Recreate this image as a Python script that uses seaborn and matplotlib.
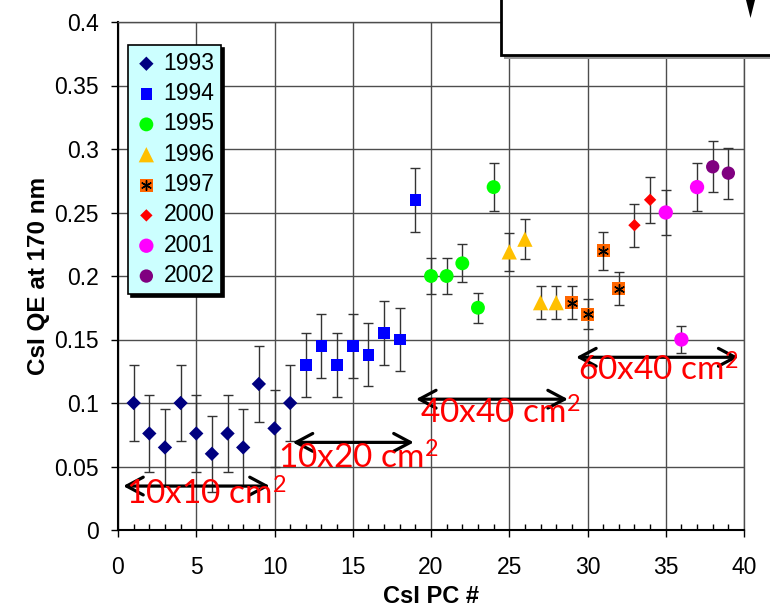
import numpy as np
import pandas as pd
import matplotlib
matplotlib.use("Agg")
import matplotlib.pyplot as plt
import seaborn as sns
from matplotlib.patches import Rectangle, Polygon
from matplotlib.ticker import MultipleLocator, FuncFormatter

# ---------------- data ----------------
years = ["1993", "1994", "1995", "1996", "1997", "2000", "2001", "2002"]

pc_1993 = [1, 2, 3, 4, 5, 6, 7, 8, 9, 10, 11]
qe_1993 = [0.100, 0.076, 0.065, 0.100, 0.076, 0.060, 0.076, 0.065, 0.115, 0.080, 0.100]
err_1993 = [0.030] * 11

pc_1994 = [12, 13, 14, 15, 16, 17, 18, 19]
qe_1994 = [0.130, 0.145, 0.130, 0.145, 0.138, 0.155, 0.150, 0.260]
err_1994 = [0.025] * 8

pc_1995 = [20, 21, 22, 23, 24]
qe_1995 = [0.200, 0.200, 0.210, 0.175, 0.270]
err_1995 = [0.014, 0.014, 0.015, 0.012, 0.019]

pc_1996 = [25, 26, 27, 28]
qe_1996 = [0.219, 0.229, 0.179, 0.179]
err_1996 = [0.015, 0.016, 0.013, 0.013]

pc_1997 = [29, 30, 31, 32]
qe_1997 = [0.179, 0.170, 0.220, 0.190]
err_1997 = [0.013, 0.012, 0.015, 0.013]

pc_2000 = [33, 34]
qe_2000 = [0.240, 0.260]
err_2000 = [0.017, 0.018]

pc_2001 = [35, 36, 37]
qe_2001 = [0.250, 0.150, 0.270]
err_2001 = [0.0175, 0.0105, 0.019]

pc_2002 = [38, 39]
qe_2002 = [0.286, 0.281]
err_2002 = [0.020, 0.020]

x_ticks = [0, 5, 10, 15, 20, 25, 30, 35, 40]
y_ticks = [0, 0.05, 0.1, 0.15, 0.2, 0.25, 0.3, 0.35, 0.4]

size_labels = ["10x10 cm$^{2}$", "10x20 cm$^{2}$", "40x40 cm$^{2}$", "60x40 cm$^{2}$"]
size_ranges = [(0.33, 9.7), (11.16, 18.9), (19.04, 28.75), (29.27, 39.65)]
arrow_y = [0.0346, 0.069, 0.103, 0.136]
label_x = [0.5, 10.2, 19.3, 29.4]
label_y = [0.0197, 0.0485, 0.084, 0.1175]

# ---------------- styling ----------------
plt.rcParams["font.family"] = ["Liberation Sans", "DejaVu Sans"]
plt.rcParams["mathtext.fontset"] = "custom"
plt.rcParams["mathtext.rm"] = "Lato"
plt.rcParams["mathtext.it"] = "Lato"
plt.rcParams["mathtext.default"] = "regular"

series = {
    "1993": (pc_1993, qe_1993, err_1993, "D", "#000080", 7.3),
    "1994": (pc_1994, qe_1994, err_1994, "s", "#0000FF", 8.4),
    "1995": (pc_1995, qe_1995, err_1995, "o", "#00FF00", 10.0),
    "1996": (pc_1996, qe_1996, err_1996, "^", "#FFC000", 11.0),
    "1997": (pc_1997, qe_1997, err_1997, "s", "#FF6600", 9.4),
    "2000": (pc_2000, qe_2000, err_2000, "D", "#FF0000", 6.3),
    "2001": (pc_2001, qe_2001, err_2001, "o", "#FF00FF", 10.3),
    "2002": (pc_2002, qe_2002, err_2002, "o", "#800080", 9.6),
}

fig = plt.figure(figsize=(7.7, 6.13), dpi=100)
ax = fig.add_axes([118 / 770, 83 / 613, 626 / 770, 508 / 613])

handles = []
for yr in years:
    xs, ys, es, mk, col, ms = series[yr]
    df = pd.DataFrame({"pc": xs, "qe": ys})
    ax.errorbar(xs, ys, yerr=es, fmt="none", ecolor="#333333",
                elinewidth=1.0, capsize=3.5, capthick=1.0, zorder=3)
    sns.scatterplot(data=df, x="pc", y="qe", marker=mk, color=col,
                    s=ms ** 2, edgecolor="none", linewidth=0,
                    ax=ax, zorder=4, legend=False)
    h = ax.collections[-1]
    if yr == "1997":
        sns.scatterplot(data=df, x="pc", y="qe", marker=(6, 2, 0),
                        color="black", s=(ms * 0.75) ** 2, linewidth=1.0,
                        ax=ax, zorder=5, legend=False)
        h = (h, ax.collections[-1])
    handles.append(h)

# size arrows and labels
for lab, (x0, x1), ay, tx, ty in zip(size_labels, size_ranges, arrow_y, label_x, label_y):
    ax.annotate("", xy=(x1, ay), xytext=(x0, ay),
                arrowprops=dict(arrowstyle="<->,head_length=0.6,head_width=0.32",
                                lw=2.3, color="black", shrinkA=0, shrinkB=0,
                                mutation_scale=20),
                zorder=6)
    ax.text(tx, ty, lab, color="#FF0000", fontsize=24, family=["Lato", "DejaVu Sans"],
            ha="left", va="baseline", zorder=7)

# axes
ax.set_xlim(0, 40)
ax.set_ylim(0, 0.4)
ax.set_xticks(x_ticks)
ax.set_yticks(y_ticks)
ax.xaxis.set_minor_locator(MultipleLocator(1))
ax.yaxis.set_major_formatter(FuncFormatter(lambda v, p: "%g" % v))
ax.xaxis.set_major_formatter(FuncFormatter(lambda v, p: "%g" % v))
ax.grid(True, which="major", color="#4d4d4d", lw=1.0, zorder=0)
ax.set_axisbelow(True)
ax.tick_params(axis="x", which="major", direction="out", length=5, width=1,
               labelsize=16.5, pad=14, color="black")
ax.tick_params(axis="x", which="minor", direction="in", length=4, width=1, color="black")
ax.tick_params(axis="y", which="major", direction="out", length=5, width=1,
               labelsize=16.5, pad=9, color="black")
for s in ["left", "bottom"]:
    ax.spines[s].set_color("black")
    ax.spines[s].set_linewidth(1.5)
for s in ["top", "right"]:
    ax.spines[s].set_color("#4d4d4d")
    ax.spines[s].set_linewidth(1.0)

ax.set_xlabel("CsI PC #", fontsize=17, fontweight="bold", labelpad=4)
ax.set_ylabel("CsI QE at 170 nm", fontsize=17.5, fontweight="bold", labelpad=3)

leg = ax.legend(handles, years, loc="upper left", bbox_to_anchor=(0.016, 0.955),
                borderaxespad=0, fontsize=16.5, frameon=True, fancybox=False,
                shadow={"color": "black", "alpha": 1.0},
                handlelength=1.0, handletextpad=0.25, borderpad=0.3,
                labelspacing=0.32, markerscale=1.0)
leg.get_frame().set_facecolor("#CCFFFF")
leg.get_frame().set_edgecolor("black")
leg.get_frame().set_linewidth(1.2)
leg.get_frame().set_alpha(1)
leg.set_zorder(8)

# cropped annotation box at top right
fig.add_artist(Rectangle((504 / 770, 1 - 59 / 613), 0.5, 0.2, transform=fig.transFigure,
                         facecolor="#9a9a9a", edgecolor="none", zorder=9))
fig.add_artist(Rectangle((501 / 770, 1 - 55 / 613), 0.5, 0.2, transform=fig.transFigure,
                         facecolor="white", edgecolor="black", lw=2, zorder=10))
fig.add_artist(Polygon([(746 / 770, 1.0), (755 / 770, 1.0), (750.5 / 770, 1 - 18 / 613)],
                       closed=True, transform=fig.transFigure, facecolor="black",
                       edgecolor="none", zorder=11))

fig.savefig("out.png", dpi=100)
